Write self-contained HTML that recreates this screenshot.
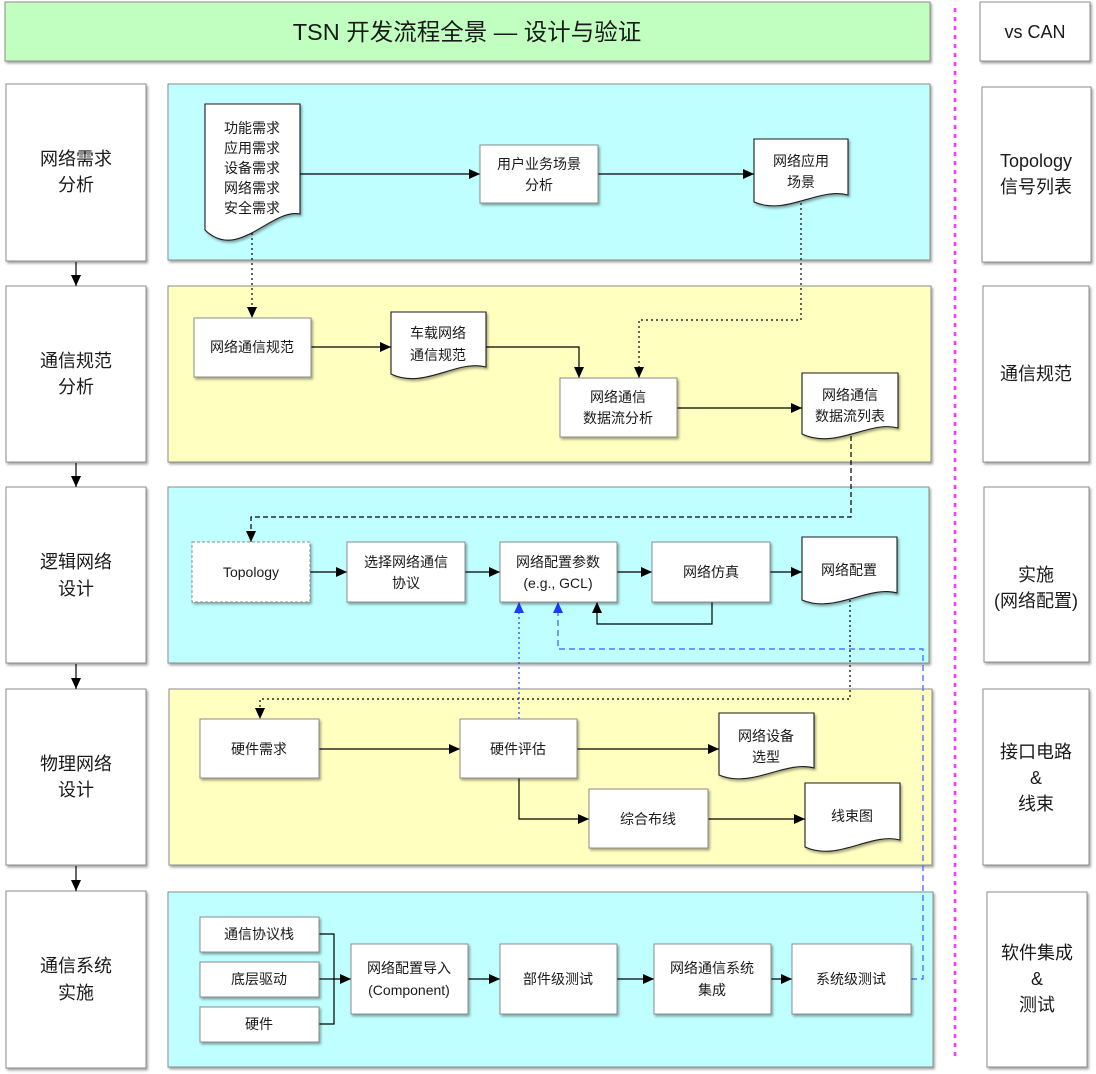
<!DOCTYPE html>
<html><head><meta charset="utf-8"><style>
html,body{margin:0;padding:0;background:#fff;}
svg{display:block;}
text{font-family:"Liberation Sans","Noto Sans CJK SC",sans-serif;fill:#1a1a1a;}
</style></head><body>
<svg width="1096" height="1074" viewBox="0 0 1096 1074" xmlns="http://www.w3.org/2000/svg">
<defs>
<filter id="sh" x="-10%" y="-10%" width="130%" height="130%">
<feDropShadow dx="1.5" dy="2" stdDeviation="1.3" flood-color="#000" flood-opacity="0.35"/>
</filter>
<marker id="ah" markerUnits="userSpaceOnUse" markerWidth="12" markerHeight="10" refX="11" refY="5" orient="auto">
<path d="M0,0 L11,5 L0,10 Z" fill="#000"/>
</marker>
<marker id="ahb" markerUnits="userSpaceOnUse" markerWidth="12" markerHeight="10" refX="11" refY="5" orient="auto">
<path d="M0,0 L11,5 L0,10 Z" fill="#1a3cff"/>
</marker>
</defs>

<!-- Title -->
<rect x="5" y="2" width="925" height="59" fill="#c0ffc0" stroke="#8c8c8c" filter="url(#sh)"/>
<text x="467" y="32" font-size="23.5" text-anchor="middle" dominant-baseline="central">TSN 开发流程全景 — 设计与验证</text>
<rect x="980" y="2" width="110" height="59" fill="#fff" stroke="#8c8c8c" filter="url(#sh)"/>
<text x="1035" y="32" font-size="18" text-anchor="middle" dominant-baseline="central">vs CAN</text>

<!-- magenta divider -->
<line x1="955" y1="8" x2="955" y2="1060" stroke="#ff33ff" stroke-width="2.6" stroke-dasharray="4,5"/>

<!-- Left column -->
<g fill="#fff" stroke="#8c8c8c" filter="url(#sh)">
<rect x="6" y="84" width="140" height="177"/>
<rect x="6" y="286" width="140" height="176"/>
<rect x="6" y="487" width="140" height="176"/>
<rect x="6" y="689" width="140" height="176"/>
<rect x="6" y="891" width="140" height="177"/>
</g>
<g font-size="18" text-anchor="middle" dominant-baseline="central">
<text x="76" y="159">网络需求</text><text x="76" y="185">分析</text>
<text x="76" y="361">通信规范</text><text x="76" y="387">分析</text>
<text x="76" y="562">逻辑网络</text><text x="76" y="589">设计</text>
<text x="76" y="764">物理网络</text><text x="76" y="790">设计</text>
<text x="76" y="966">通信系统</text><text x="76" y="993">实施</text>
</g>
<g stroke="#000" stroke-width="1.2" marker-end="url(#ah)">
<line x1="76" y1="262" x2="76" y2="286"/>
<line x1="76" y1="463" x2="76" y2="487"/>
<line x1="76" y1="664" x2="76" y2="689"/>
<line x1="76" y1="866" x2="76" y2="891"/>
</g>

<!-- Right column -->
<g fill="#fff" stroke="#8c8c8c" filter="url(#sh)">
<rect x="982" y="87" width="109" height="175"/>
<rect x="983" y="286" width="106" height="176"/>
<rect x="984" y="487" width="105" height="175"/>
<rect x="983" y="689" width="106" height="176"/>
<rect x="987" y="892" width="100" height="175"/>
</g>
<g font-size="18" text-anchor="middle" dominant-baseline="central">
<text x="1036" y="161">Topology</text><text x="1036" y="187">信号列表</text>
<text x="1036" y="374">通信规范</text>
<text x="1036" y="575">实施</text><text x="1036" y="601">(网络配置)</text>
<text x="1036" y="752">接口电路</text><text x="1036" y="778">&amp;</text><text x="1036" y="804">线束</text>
<text x="1037" y="953">软件集成</text><text x="1037" y="979">&amp;</text><text x="1037" y="1005">测试</text>
</g>

<!-- Middle containers -->
<g stroke="#8c8c8c" filter="url(#sh)">
<rect x="168" y="84" width="762" height="176" fill="#bfffff"/>
<rect x="168" y="286" width="763" height="176" fill="#ffffc0"/>
<rect x="168" y="487" width="761" height="176" fill="#bfffff"/>
<rect x="169" y="689" width="763" height="176" fill="#ffffc0"/>
<rect x="168" y="892" width="765" height="175" fill="#bfffff"/>
</g>

<!-- Connectors -->
<g fill="none" stroke="#000" stroke-width="1.2">
<line x1="300" y1="174" x2="480" y2="174" marker-end="url(#ah)"/>
<line x1="598" y1="174" x2="754" y2="174" marker-end="url(#ah)"/>
<polyline points="252,233 252,318" stroke-dasharray="2,3" marker-end="url(#ah)"/>
<polyline points="801,203 801,320 639,320 639,378" stroke-dasharray="2,3" marker-end="url(#ah)"/>
<line x1="311" y1="347" x2="391" y2="347" marker-end="url(#ah)"/>
<polyline points="486,347 579,347 579,378" marker-end="url(#ah)"/>
<line x1="677" y1="408" x2="802" y2="408" marker-end="url(#ah)"/>
<polyline points="851,436 851,517 251,517 251,542" stroke-dasharray="5,3" marker-end="url(#ah)"/>
<line x1="310" y1="572" x2="347" y2="572" marker-end="url(#ah)"/>
<line x1="465" y1="572" x2="500" y2="572" marker-end="url(#ah)"/>
<line x1="617" y1="572" x2="652" y2="572" marker-end="url(#ah)"/>
<line x1="770" y1="572" x2="802" y2="572" marker-end="url(#ah)"/>
<polyline points="712,602 712,624 597,624 597,602" marker-end="url(#ah)"/>
<polyline points="850,600 850,699 260,699 260,719" stroke-dasharray="2,3" marker-end="url(#ah)"/>
<line x1="319" y1="749" x2="460" y2="749" marker-end="url(#ah)"/>
<line x1="577" y1="749" x2="719" y2="749" marker-end="url(#ah)"/>
<polyline points="519,778 519,819 589,819" marker-end="url(#ah)"/>
<line x1="708" y1="819" x2="805" y2="819" marker-end="url(#ah)"/>
<polyline points="319,934 334,934 334,1024 319,1024"/>
<line x1="319" y1="979" x2="334" y2="979"/>
<line x1="334" y1="979" x2="351" y2="979" marker-end="url(#ah)"/>
<line x1="468" y1="979" x2="500" y2="979" marker-end="url(#ah)"/>
<line x1="617" y1="979" x2="654" y2="979" marker-end="url(#ah)"/>
<line x1="771" y1="979" x2="792" y2="979" marker-end="url(#ah)"/>
</g>
<g fill="none" stroke-width="1.2">
<polyline points="519,719 519,602" stroke="#1a3cff" stroke-dasharray="2,3" marker-end="url(#ahb)"/>
<polyline points="911,979 923,979 923,649 558,649 558,602" stroke="#3a5cff" stroke-dasharray="6,4" marker-end="url(#ahb)"/>
</g>

<!-- Process boxes -->
<g fill="#fff" stroke="#8c8c8c" filter="url(#sh)">
<rect x="480" y="145" width="118" height="58"/>
<rect x="194" y="318" width="117" height="59"/>
<rect x="560" y="378" width="117" height="59"/>
<rect x="347" y="542" width="118" height="60"/>
<rect x="500" y="542" width="117" height="60"/>
<rect x="652" y="542" width="118" height="60"/>
<rect x="200" y="719" width="119" height="59"/>
<rect x="460" y="719" width="117" height="59"/>
<rect x="589" y="789" width="119" height="59"/>
<rect x="200" y="917" width="119" height="35"/>
<rect x="200" y="962" width="119" height="35"/>
<rect x="200" y="1007" width="119" height="35"/>
<rect x="351" y="944" width="117" height="70"/>
<rect x="500" y="944" width="117" height="70"/>
<rect x="654" y="944" width="117" height="70"/>
<rect x="792" y="944" width="119" height="70"/>
</g>
<rect x="192" y="542" width="118" height="60" fill="#fff" stroke="#8c8c8c" stroke-dasharray="3,2" filter="url(#sh)"/>

<!-- Document shapes -->
<g fill="#fff" stroke="#1a1a1a" stroke-width="1.1" filter="url(#sh)">
<path d="M205,104 H300 V214 C271,208 238,262 205,230 Z"/>
<path d="M754,139 H848 V195 C818,187 787,216 754,202 Z"/>
<path d="M391,312 H486 V367 C457,359 424,390 391,374 Z"/>
<path d="M802,373 H898 V428 C869,420 836,450 802,434 Z"/>
<path d="M802,537 H897 V593 C868,585 835,614 802,600 Z"/>
<path d="M719,713 H814 V768 C785,760 752,789 719,775 Z"/>
<path d="M805,783 H900 V840 C871,832 838,862 805,847 Z"/>
</g>

<!-- Node labels -->
<g font-size="14" text-anchor="middle" dominant-baseline="central">
<text x="252" y="128">功能需求</text>
<text x="252" y="148">应用需求</text>
<text x="252" y="168">设备需求</text>
<text x="252" y="188">网络需求</text>
<text x="252" y="208">安全需求</text>
<text x="539" y="164">用户业务场景</text><text x="539" y="185">分析</text>
<text x="801" y="161">网络应用</text><text x="801" y="182">场景</text>
<text x="252" y="347">网络通信规范</text>
<text x="438" y="333">车载网络</text><text x="438" y="355">通信规范</text>
<text x="618" y="397">网络通信</text><text x="618" y="418">数据流分析</text>
<text x="850" y="395">网络通信</text><text x="850" y="416">数据流列表</text>
<text x="251" y="572">Topology</text>
<text x="406" y="562">选择网络通信</text><text x="406" y="583">协议</text>
<text x="558" y="562">网络配置参数</text><text x="558" y="583">(e.g., GCL)</text>
<text x="711" y="572">网络仿真</text>
<text x="849" y="570">网络配置</text>
<text x="259" y="749">硬件需求</text>
<text x="518" y="749">硬件评估</text>
<text x="766" y="736">网络设备</text><text x="766" y="757">选型</text>
<text x="648" y="819">综合布线</text>
<text x="852" y="816">线束图</text>
<text x="259" y="934">通信协议栈</text>
<text x="259" y="979">底层驱动</text>
<text x="259" y="1024">硬件</text>
<text x="409" y="968">网络配置导入</text><text x="409" y="990">(Component)</text>
<text x="558" y="979">部件级测试</text>
<text x="712" y="968">网络通信系统</text><text x="712" y="990">集成</text>
<text x="851" y="979">系统级测试</text>
</g>
</svg>
</body></html>
